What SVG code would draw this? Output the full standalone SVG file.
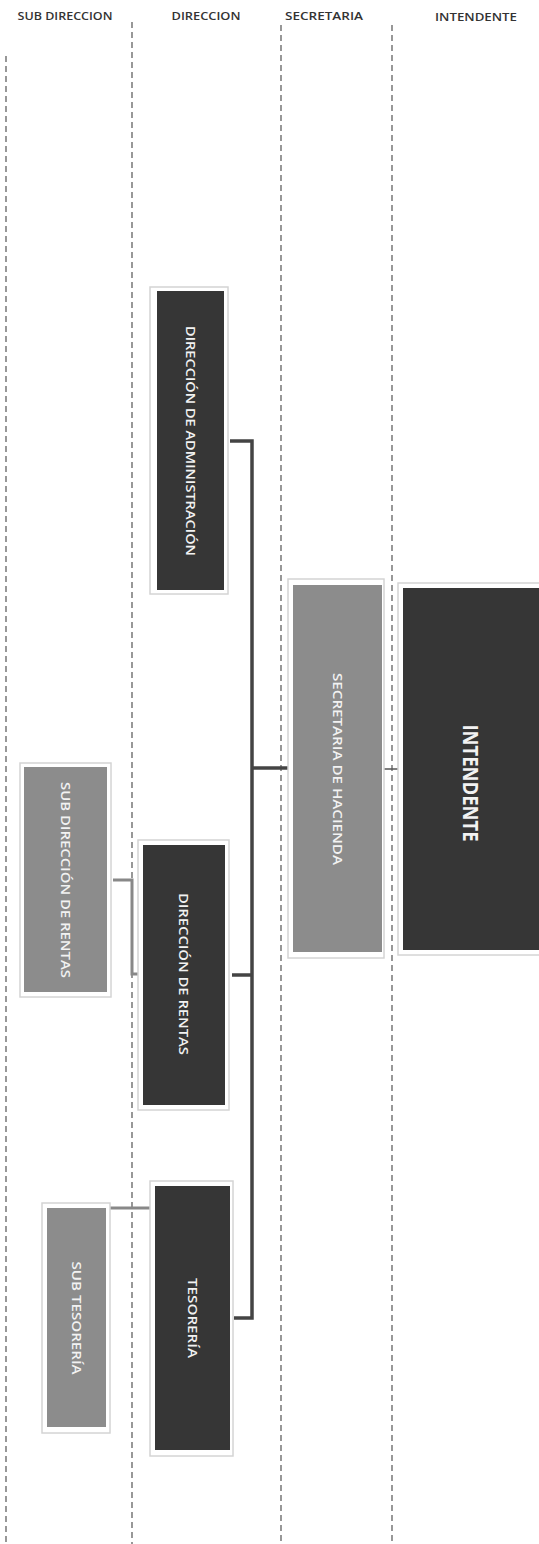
<svg xmlns="http://www.w3.org/2000/svg" width="539" height="1544" viewBox="0 0 539 1544">
<style>
.hdr{font-family:"Open Sans","Liberation Sans",sans-serif;font-size:11px;font-weight:600;fill:#333;text-anchor:middle}
.lane{stroke:#444;stroke-width:1.1;stroke-dasharray:6,4;fill:none}
.frame{fill:#fff;stroke:#d4d4d4;stroke-width:1.5}
.dark{fill:#363636}
.gray{fill:#8c8c8c}
.lbl{font-family:"Open Sans","Liberation Sans",sans-serif;font-size:13px;font-weight:600;fill:#f2f2f2;text-anchor:middle;dominant-baseline:central}
.big{font-size:21px;font-weight:700}
.con{stroke:#444;stroke-width:3.5;fill:none}
.sub{stroke:#888;stroke-width:3;fill:none}
.thin{stroke:#555;stroke-width:1.5;fill:none}
</style>
<rect width="539" height="1544" fill="#fff"/>
<g id="headers">
<text class="hdr" x="65" y="20" textLength="95" lengthAdjust="spacingAndGlyphs">SUB DIRECCION</text>
<text class="hdr" x="206" y="20" textLength="69" lengthAdjust="spacingAndGlyphs">DIRECCION</text>
<text class="hdr" x="324" y="20" textLength="78" lengthAdjust="spacingAndGlyphs">SECRETARIA</text>
<text class="hdr" x="476" y="21" textLength="82" lengthAdjust="spacingAndGlyphs">INTENDENTE</text>
</g>
<g id="lanes">
<line class="lane" x1="6" y1="56" x2="6" y2="1544"/>
<line class="lane" x1="132" y1="22" x2="132" y2="1544"/>
<line class="lane" x1="281" y1="25" x2="281" y2="1544"/>
<line class="lane" x1="392" y1="25" x2="392" y2="1544"/>
</g>
<g id="connectors">
<path class="con" d="M230 441 H252 V1318 H234"/>
<path class="con" d="M252 768 H289"/>
<path class="con" d="M232 975 H252"/>
<path class="thin" d="M384 769 H403"/>
<path class="sub" d="M113 880 H132 V974 H140"/>
<path class="sub" d="M110 1208 H150"/>
</g>
<g id="n-admin">
<rect class="frame" x="150" y="287" width="78" height="307"/>
<rect class="dark" x="157" y="291" width="67" height="299"/>
<text class="lbl" transform="translate(190.5 441) rotate(90)" textLength="230" lengthAdjust="spacingAndGlyphs">DIRECCIÓN DE ADMINISTRACIÓN</text>
</g>
<g id="n-secretaria">
<rect class="frame" x="288" y="579" width="96" height="379"/>
<rect class="gray" x="293" y="585" width="89" height="367"/>
<text class="lbl" transform="translate(337.5 769) rotate(90)" textLength="192" lengthAdjust="spacingAndGlyphs">SECRETARIA DE HACIENDA</text>
</g>
<g id="n-intendente">
<rect class="frame" x="398" y="583" width="145" height="372"/>
<rect class="dark" x="403" y="588" width="140" height="362"/>
<text class="lbl big" transform="translate(471 783) rotate(90)" textLength="117" lengthAdjust="spacingAndGlyphs">INTENDENTE</text>
</g>
<g id="n-subrentas">
<rect class="frame" x="20" y="763" width="91" height="234"/>
<rect class="gray" x="24" y="767" width="83" height="225"/>
<text class="lbl" transform="translate(65.5 880) rotate(90)" textLength="196" lengthAdjust="spacingAndGlyphs">SUB DIRECCIÓN DE RENTAS</text>
</g>
<g id="n-rentas">
<rect class="frame" x="138" y="840" width="91" height="270"/>
<rect class="dark" x="143" y="845" width="82" height="260"/>
<text class="lbl" transform="translate(184 974) rotate(90)" textLength="162" lengthAdjust="spacingAndGlyphs">DIRECCIÓN DE RENTAS</text>
</g>
<g id="n-tesoreria">
<rect class="frame" x="150" y="1181" width="83" height="275"/>
<rect class="dark" x="155" y="1186" width="75" height="264"/>
<text class="lbl" transform="translate(192.5 1318) rotate(90)" textLength="80" lengthAdjust="spacingAndGlyphs">TESORERÍA</text>
</g>
<g id="n-subtesoreria">
<rect class="frame" x="42" y="1203" width="68" height="230"/>
<rect class="gray" x="47" y="1208" width="59" height="219"/>
<text class="lbl" transform="translate(76.5 1318) rotate(90)" textLength="113" lengthAdjust="spacingAndGlyphs">SUB TESORERÍA</text>
</g>
</svg>
